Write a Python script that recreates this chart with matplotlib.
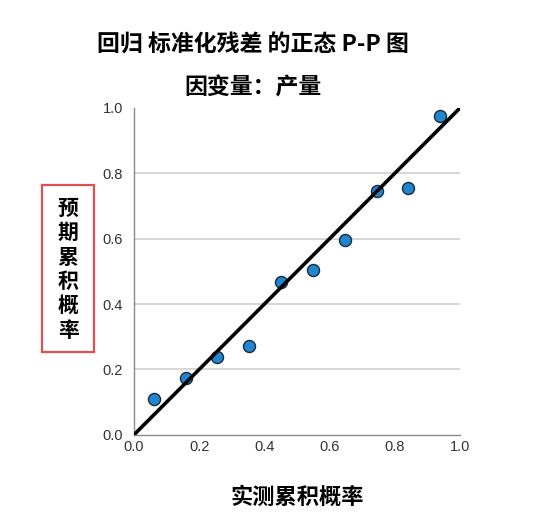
import matplotlib.pyplot as plt
from matplotlib.patches import Rectangle

plt.rcParams['font.family'] = ['Liberation Sans', 'Noto Sans CJK SC', 'DejaVu Sans']

# observed vs expected cumulative probability
observed = [0.061, 0.159, 0.256, 0.354, 0.451, 0.549, 0.646, 0.744, 0.841, 0.939]
expected = [0.110, 0.174, 0.238, 0.273, 0.468, 0.503, 0.595, 0.747, 0.755, 0.976]
ticks = [0.0, 0.2, 0.4, 0.6, 0.8, 1.0]
tick_labels = ['0.0', '0.2', '0.4', '0.6', '0.8', '1.0']

fig = plt.figure(figsize=(5.42, 5.31), dpi=100)
ax = fig.add_axes([0.247, 0.181, 0.602, 0.616])

ax.scatter(observed, expected, s=75, color='#2185d0', edgecolor='#1a2a3a',
           linewidth=1.0, zorder=3)
ax.plot([0, 1], [0, 1], color='black', lw=2.6, zorder=4, solid_capstyle='butt')

ax.set_xlim(0, 1)
ax.set_ylim(0, 1)
ax.set_xticks(ticks, tick_labels)
ax.set_yticks(ticks, tick_labels)
ax.tick_params(length=0, labelsize=10.5, colors='#333333')
ax.tick_params(axis='y', pad=8)
ax.tick_params(axis='x', pad=4)

for y in ticks[1:-1]:
    ax.axhline(y, color='#d0d0d0', lw=1.2, zorder=1)
for s in ['top', 'right']:
    ax.spines[s].set_visible(False)
for s in ['left', 'bottom']:
    ax.spines[s].set_color('#8a8a8a')
    ax.spines[s].set_linewidth(1.0)

cjk = ['Noto Sans CJK SC', 'DejaVu Sans']
fig.text(0.467, 0.915, '回归 标准化残差 的正态 P-P 图', ha='center', va='center',
         fontsize=16.5, fontweight='bold', family=cjk)
fig.text(0.467, 0.834, '因变量：产量', ha='center', va='center',
         fontsize=16.5, fontweight='bold', family=cjk)
fig.text(0.548, 0.064, '实测累积概率', ha='center', va='center',
         fontsize=16, fontweight='bold', family=cjk)

# stacked vertical y label with red box
ylab = '预期累积概率'
for i, ch in enumerate(ylab):
    fig.text(0.126, 0.608 - i * 0.046, ch, ha='center', va='center',
             fontsize=15, fontweight='bold', family=cjk)
fig.patches.append(Rectangle((0.078, 0.337), 0.096, 0.315, transform=fig.transFigure,
                             fill=False, edgecolor='#e05050', lw=1.6))

fig.savefig('out.png', dpi=100, facecolor='white')
